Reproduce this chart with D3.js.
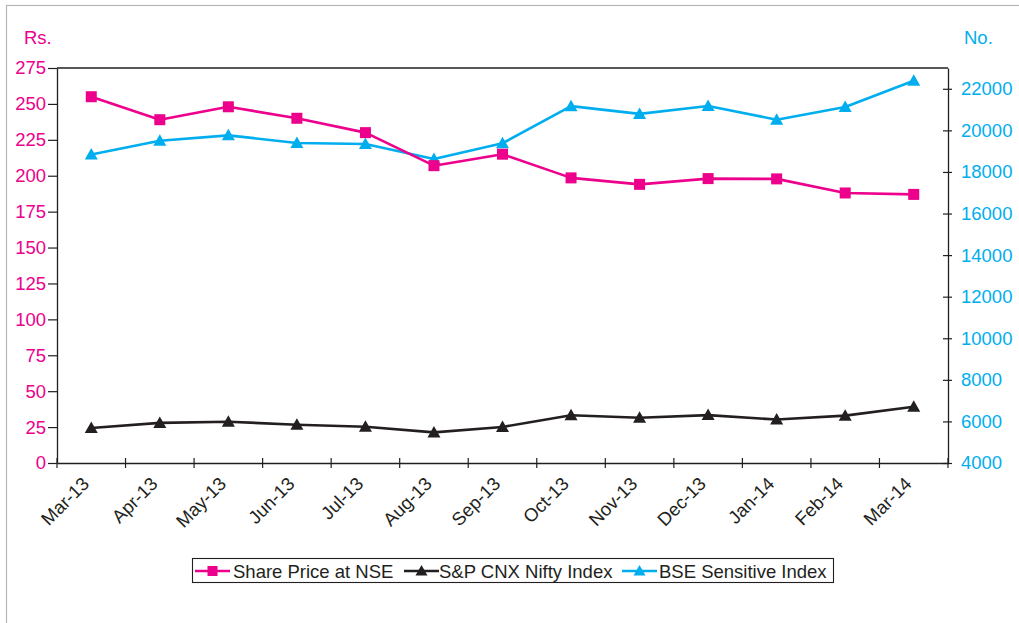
<!DOCTYPE html>
<html><head><meta charset="utf-8">
<script src="https://cdn.jsdelivr.net/npm/d3@7/dist/d3.min.js"></script>
<style>
body{margin:0;background:#fff;}
svg{display:block;font-family:"Liberation Sans",Arial,Helvetica,sans-serif;}
</style></head>
<body>
<svg id="chart" width="1019" height="623"></svg>
<script>
const months = ["Mar-13","Apr-13","May-13","Jun-13","Jul-13","Aug-13","Sep-13","Oct-13","Nov-13","Dec-13","Jan-14","Feb-14","Mar-14"];
const sharePrice = [255, 239, 248, 240, 230, 207, 215, 198.5, 194, 198, 197.8, 188, 187];
const nifty = [5682, 5930, 5986, 5842, 5742, 5471, 5735, 6299, 6176, 6304, 6090, 6277, 6704];
const sensex = [18836, 19504, 19760, 19396, 19346, 18620, 19380, 21165, 20792, 21171, 20514, 21120, 22386];
const leftTicks = [0,25,50,75,100,125,150,175,200,225,250,275];
const rightTicks = [4000,6000,8000,10000,12000,14000,16000,18000,20000,22000];
const seriesNames = ["Share Price at NSE","S&P CNX Nifty Index","BSE Sensitive Index"];

const PINK = "#EC008C", BLUE = "#00AEEF", BLACK = "#231F20";
const FS = "18.5px";
const svg = d3.select("#chart");
const L = 57, R = 948, T = 68, B = 463;

// outer border
svg.append("rect").attr("x",6.5).attr("y",5.5).attr("width",1030).attr("height",640)
  .attr("fill","none").attr("stroke","#b5b5b5").attr("stroke-width",1.2);

const xB = d3.scaleBand().domain(months).range([L,R]);
const xc = d => xB(d) + xB.bandwidth()/2;
const yL = d3.scaleLinear().domain([0,275]).range([B,T]);
const yR = d3.scaleLinear().domain([4000,23000]).range([B,T]);

// frame top
svg.append("line").attr("x1",L).attr("x2",R).attr("y1",T).attr("y2",T).attr("stroke",BLACK).attr("stroke-width",1.3);

// left axis
const gl = svg.append("g").attr("transform",`translate(${L},0)`)
  .call(d3.axisLeft(yL).tickValues(leftTicks).tickSize(9).tickPadding(2).tickSizeOuter(0));
gl.select(".domain").attr("stroke",BLACK).attr("stroke-width",1.3);
gl.selectAll(".tick line").attr("stroke",BLACK).attr("stroke-width",1.2);
gl.selectAll(".tick text").attr("fill",PINK).style("font-size",FS).style("font-family","Liberation Sans, Arial, sans-serif");

// right axis
const gr = svg.append("g").attr("transform",`translate(${R},0)`)
  .call(d3.axisRight(yR).tickValues(rightTicks).tickFormat(d3.format("d")).tickSize(4).tickPadding(9).tickSizeOuter(0));
gr.select(".domain").attr("stroke",BLACK).attr("stroke-width",1.3);
gr.selectAll(".tick line").attr("x1",-5).attr("stroke",BLACK).attr("stroke-width",1.2);
gr.selectAll(".tick text").attr("fill",BLUE).style("font-size",FS).style("font-family","Liberation Sans, Arial, sans-serif");

// bottom axis
const gb = svg.append("g").attr("transform",`translate(0,${B})`)
  .call(d3.axisBottom(xB).tickSize(0).tickPadding(0));
gb.select(".domain").attr("stroke",BLACK).attr("stroke-width",1.3);
const bounds = months.map(m => xB(m)).concat([xB.range()[1]]);
gb.selectAll(".bt").data(bounds).enter().append("line").attr("class","bt")
  .attr("x1",d=>d).attr("x2",d=>d).attr("y1",-5).attr("y2",5).attr("stroke",BLACK).attr("stroke-width",1.2);
gb.selectAll(".tick text")
  .attr("fill",BLACK).style("font-size",FS).style("font-family","Liberation Sans, Arial, sans-serif")
  .attr("text-anchor","end").attr("dy",null)
  .attr("transform","translate(-1,22) rotate(-45)");

// unit labels
svg.append("text").attr("x",24).attr("y",44).attr("fill",PINK).style("font-size",FS).text("Rs.");
svg.append("text").attr("x",964).attr("y",44).attr("fill",BLUE).style("font-size",FS).text("No.");

// lines
function drawSeries(vals, yScale, color, marker){
  const line = d3.line().x((d,i)=>xc(months[i])).y(d=>yScale(d));
  svg.append("path").datum(vals).attr("d",line).attr("fill","none").attr("stroke",color).attr("stroke-width",2.6).attr("stroke-linejoin","round");
  const g = svg.append("g");
  vals.forEach((v,i)=>{
    const x = xc(months[i]), y = yScale(v);
    if(marker==="square"){
      g.append("rect").attr("x",x-5.5).attr("y",y-5.5).attr("width",11).attr("height",11).attr("fill",color);
    } else {
      g.append("path").attr("d",`M${x},${y-6.5}L${x+6.5},${y+5}L${x-6.5},${y+5}Z`).attr("fill",color);
    }
  });
}
drawSeries(sensex, yR, BLUE, "tri");
drawSeries(sharePrice, yL, PINK, "square");
drawSeries(nifty, yR, BLACK, "tri");

// legend
const lg = svg.append("g");
lg.append("rect").attr("x",192.5).attr("y",558.5).attr("width",641).attr("height",24).attr("fill","#fff").attr("stroke",BLACK).attr("stroke-width",1.1);
const items = [
  {name:seriesNames[0], color:PINK, marker:"square", x0:195, tx:233},
  {name:seriesNames[1], color:BLACK, marker:"tri", x0:404, tx:439},
  {name:seriesNames[2], color:BLUE, marker:"tri", x0:622, tx:659}
];
items.forEach(it=>{
  const cy = 571;
  lg.append("line").attr("x1",it.x0).attr("x2",it.x0+35).attr("y1",cy).attr("y2",cy).attr("stroke",it.color).attr("stroke-width",2.6);
  const mx = it.x0+17.5;
  if(it.marker==="square") lg.append("rect").attr("x",mx-5).attr("y",cy-5).attr("width",10).attr("height",10).attr("fill",it.color);
  else lg.append("path").attr("d",`M${mx},${cy-6}L${mx+6},${cy+4.5}L${mx-6},${cy+4.5}Z`).attr("fill",it.color);
  lg.append("text").attr("x",it.tx).attr("y",cy+6.5).attr("fill",BLACK).style("font-size",FS).text(it.name);
});
</script>
</body></html>
